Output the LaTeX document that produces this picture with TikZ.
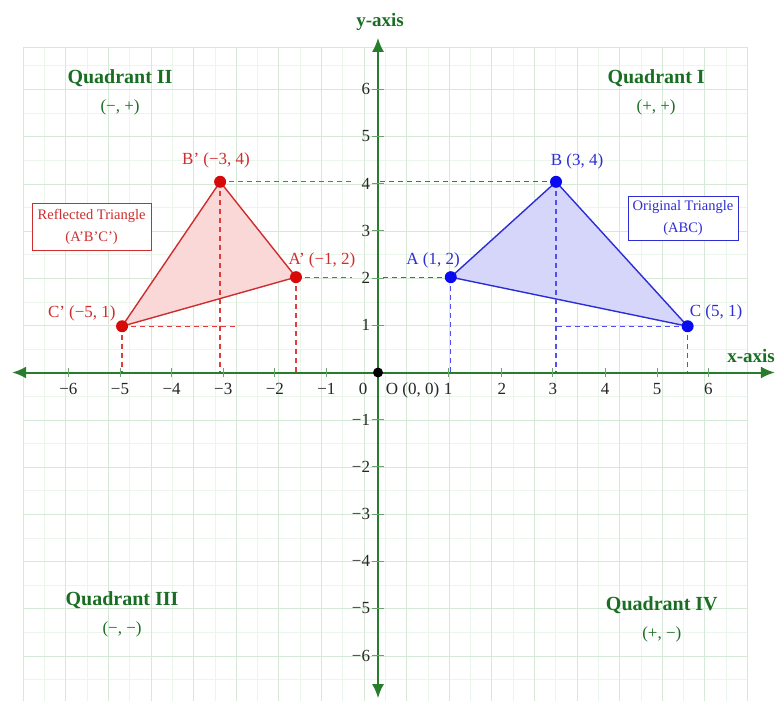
\documentclass[tikz,border=0pt]{standalone}
\usepackage{fontspec}
\setmainfont{Liberation Serif}
\usepackage{tikz}
\usetikzlibrary{positioning, calc, arrows.meta}

\definecolor{axisgreen}{RGB}{40,125,45}
\definecolor{quadgreen}{RGB}{25,110,35}
\definecolor{gridgreen}{RGB}{214,232,214}
\definecolor{gridfaint}{RGB}{236,245,236}
\definecolor{origblue}{RGB}{45,45,215}
\definecolor{origfill}{RGB}{214,214,250}
\definecolor{dotblue}{RGB}{10,10,240}
\definecolor{projblue}{RGB}{80,80,240}
\definecolor{reflred}{RGB}{205,45,45}
\definecolor{reflfill}{RGB}{250,216,216}
\definecolor{dotred}{RGB}{215,10,10}
\definecolor{projred}{RGB}{225,60,60}

\begin{document}
\begin{tikzpicture}[
        x=51.6pt, y=47.2pt,
        quadlbl/.style={text=quadgreen, font=\fontsize{20}{24}\selectfont\bfseries},
        signlbl/.style={text=quadgreen, font=\fontsize{17}{20}\selectfont},
        axislbl/.style={text=quadgreen, font=\fontsize{19}{22}\selectfont\bfseries},
        ticklbl/.style={text=black!85, font=\fontsize{17}{20}\selectfont, inner sep=0pt},
        ptlbl/.style={font=\fontsize{17}{20}\selectfont},
        bluedot/.style={circle, fill=dotblue, inner sep=0pt, minimum size=12pt},
        reddot/.style={circle, fill=dotred, inner sep=0pt, minimum size=12pt},
        infobox/.style={draw, line width=1pt, fill=white, align=center,
            font=\fontsize{14.5}{22}\selectfont, inner sep=4pt},
        proj/.style={line width=1.3pt, dash pattern=on 5pt off 4pt},
        axis/.style={<->, >={Latex[length=14pt,width=12pt]}, draw=axisgreen, line width=2pt},
        tickmark/.style={draw=axisgreen!70, line width=1pt}
    ]
    \useasboundingbox (-7.326,-6.939) rectangle (7.713,7.892);

    % grid
    \foreach \i in {0,...,34}
        \draw[gridfaint] ({-6.88+0.4128*\i},-7) -- ++(0,13.9);
    \foreach \j in {-14,...,13}
        \draw[gridfaint] (-6.88,{\j/2}) -- (7.155,{\j/2});
    \foreach \i in {0,...,17}
        \draw[gridgreen] ({-6.88+0.8256*\i},-7) -- ++(0,13.9);
    \foreach \j in {-7,...,6}
        \draw[gridgreen] (-6.88,\j) -- (7.155,\j);
    \draw[gridgreen] (-6.88,6.9) -- (7.155,6.9);

    \coordinate (O) at (0,0);
    \coordinate (A) at (1.41,2.02);
    \coordinate (B) at (3.45,4.04);
    \coordinate (C) at (6.0,0.98);
    \coordinate (Ar) at (-1.59,2.02);
    \coordinate (Br) at (-3.06,4.04);
    \coordinate (Cr) at (-4.96,0.98);
    \coordinate (ystop) at (-0.5,0);
    \coordinate (crstop) at (-2.73,0);

    % triangles
    \filldraw[fill=origfill, draw=origblue, line width=1.4pt, line join=round] (A) -- (B) -- (C) -- cycle;
    \filldraw[fill=reflfill, draw=reflred, line width=1.4pt, line join=round] (Ar) -- (Br) -- (Cr) -- cycle;

    % projections
    \draw[proj, projblue] (A) -- (A |- O);
    \draw[proj, projblue] (B) -- (B |- O);
    \draw[proj, projblue] (C) -- (C |- O);
    \draw[proj, projblue] (A) -- (A -| O);
    \draw[proj, projblue] (B) -- (B -| O);
    \draw[proj, projblue] (C) -- (C -| B);
    \draw[proj, projred] (Ar) -- (Ar |- O);
    \draw[proj, projred] (Br) -- (Br |- O);
    \draw[proj, projred] (Cr) -- (Cr |- O);
    \draw[proj, projred] (Ar) -- (Ar -| ystop);
    \draw[proj, projred] (Br) -- (Br -| ystop);
    \draw[proj, projred] (Cr) -- (Cr -| crstop);

    % axes
    \coordinate (xl) at (-7.09,0);
    \coordinate (xr) at (7.69,0);
    \coordinate (yt) at (0,7.09);
    \coordinate (yb) at (0,-6.90);
    \draw[axis] (xl) -- (xr);
    \draw[axis] (yb) -- (yt);

    \foreach \k in {1,...,6} {
        \draw[tickmark] (-\k,-0.1) -- (-\k,0.1);
        \node[ticklbl, anchor=north] at (-\k,-0.22) {−\k};
        \draw[tickmark] (-0.12,\k) -- (0.12,\k);
        \node[ticklbl, anchor=east] at (-0.15,\k) {\k};
        \draw[tickmark] (-0.12,-\k) -- (0.12,-\k);
        \node[ticklbl, anchor=east] at (-0.15,-\k) {−\k};
    }
    \foreach \xp/\xt in {1.357/1, 2.40/2, 3.39/3, 4.40/4, 5.41/5, 6.40/6} {
        \draw[tickmark] (\xp,-0.1) -- (\xp,0.1);
        \node[ticklbl, anchor=north] at (\xp,-0.22) {\xt};
    }
    \node[ticklbl, anchor=north] (zero) at (-0.29,-0.22) {0};
    \node[ticklbl, anchor=north] (orig) at (0.67,-0.22) {O (0, 0)};

    \node[axislbl] (ylbl) at (0.04,7.42) {y-axis};
    \node[axislbl] (xlbl) at (7.23,0.35) {x-axis};

    % points
    \node[circle, fill=black, inner sep=0pt, minimum size=10pt] (o) at (O) {};
    \node[bluedot] (a) at (A) {};
    \node[bluedot] (b) at (B) {};
    \node[bluedot] (c) at (C) {};
    \node[reddot] (ar) at (Ar) {};
    \node[reddot] (br) at (Br) {};
    \node[reddot] (cr) at (Cr) {};

    \node[ptlbl, text=origblue] (alb) at (1.066,2.38) {A (1, 2)};
    \node[ptlbl, text=origblue] (blb) at (3.857,4.48) {B (3, 4)};
    \node[ptlbl, text=origblue] (clb) at (6.55,1.28) {C (5, 1)};
    \node[ptlbl, text=reflred] (arlb) at (-1.085,2.38) {A’ (−1, 2)};
    \node[ptlbl, text=reflred] (brlb) at (-3.14,4.50) {B’ (−3, 4)};
    \node[ptlbl, text=reflred] (crlb) at (-5.74,1.26) {C’ (−5, 1)};

    % legend boxes
    \node[infobox, draw=origblue, text=origblue, minimum width=110pt, minimum height=43pt]
        (origbox) at (5.911,3.263) {Original Triangle\\(ABC)};
    \node[infobox, draw=reflred, text=reflred, minimum width=119pt, minimum height=47pt]
        (reflbox) at (-5.55,3.09) {Reflected Triangle\\(A’B’C’)};

    % quadrants
    \node[quadlbl] (q1) at (5.39,6.24) {Quadrant I};
    \node[signlbl, below=6pt of q1] (q1s) {(+, +)};
    \node[quadlbl] (q2) at (-5.0,6.24) {Quadrant II};
    \node[signlbl, below=6pt of q2] (q2s) {(−, +)};
    \node[quadlbl] (q3) at (-4.96,-4.82) {Quadrant III};
    \node[signlbl, below=6pt of q3] (q3s) {(−, −)};
    \node[quadlbl] (q4) at (5.50,-4.93) {Quadrant IV};
    \node[signlbl, below=6pt of q4] (q4s) {(+, −)};
\end{tikzpicture}
\end{document}
